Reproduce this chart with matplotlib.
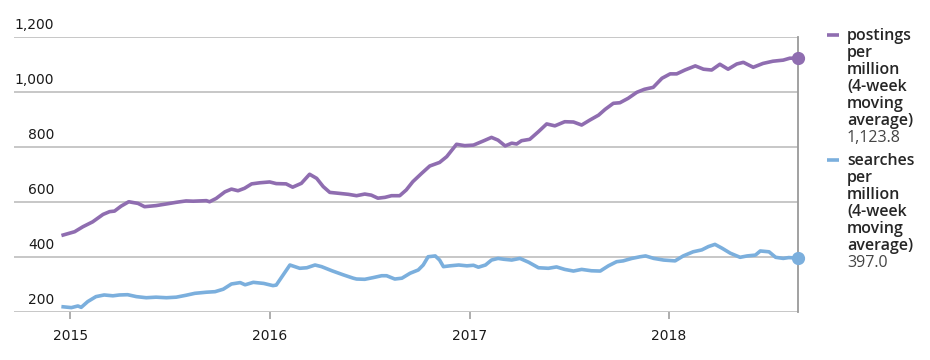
import numpy as np
import pandas as pd
import matplotlib
matplotlib.use("Agg")
import matplotlib.pyplot as plt
import matplotlib.transforms as mtransforms
from matplotlib.lines import Line2D

## DATA

post_dates = [
    "2014-12-19", "2015-01-09", "2015-01-24", "2015-02-11", "2015-03-02", "2015-03-14",
    "2015-03-23", "2015-04-04", "2015-04-18", "2015-05-05", "2015-05-17", "2015-06-07",
    "2015-06-26", "2015-07-14", "2015-08-01", "2015-08-14", "2015-09-07", "2015-09-13",
    "2015-09-25", "2015-10-11", "2015-10-23", "2015-11-04", "2015-11-16", "2015-11-29",
    "2015-12-14", "2016-01-01", "2016-01-13", "2016-01-31", "2016-02-12", "2016-02-28",
    "2016-03-14", "2016-03-27", "2016-04-08", "2016-04-20", "2016-05-05", "2016-05-24",
    "2016-06-08", "2016-06-23", "2016-07-05", "2016-07-17", "2016-07-30", "2016-08-11",
    "2016-08-26", "2016-09-07", "2016-09-19", "2016-10-05", "2016-10-20", "2016-11-07",
    "2016-11-20", "2016-12-08", "2016-12-23", "2017-01-08", "2017-01-26", "2017-02-10",
    "2017-02-22", "2017-03-07", "2017-03-19", "2017-03-28", "2017-04-06", "2017-04-21",
    "2017-05-07", "2017-05-22", "2017-06-06", "2017-06-24", "2017-07-10", "2017-07-25",
    "2017-08-09", "2017-08-25", "2017-09-06", "2017-09-21", "2017-10-03", "2017-10-18",
    "2017-11-03", "2017-11-17", "2017-12-03", "2017-12-19", "2018-01-03", "2018-01-15",
    "2018-01-30", "2018-02-18", "2018-03-05", "2018-03-20", "2018-04-04", "2018-04-19",
    "2018-05-05", "2018-05-17", "2018-06-04", "2018-06-22", "2018-07-10", "2018-07-29",
    "2018-08-10", "2018-08-25",
]
post_values = [
    481, 493, 511, 529, 556, 566,
    568, 586, 602, 596, 584, 588,
    594, 600, 605, 604, 606, 602,
    614, 638, 648, 642, 651, 667,
    671, 674, 668, 667, 655, 669,
    702, 687, 657, 636, 633, 629,
    624, 630, 626, 615, 618, 624,
    624, 645, 675, 705, 732, 745,
    766, 811, 806, 808, 823, 836,
    826, 805, 815, 812, 824, 829,
    857, 885, 878, 893, 892, 881,
    899, 917, 938, 960, 962, 978,
    1000, 1011, 1018, 1051, 1067, 1067,
    1081, 1096, 1084, 1081, 1102, 1084,
    1103, 1109, 1091, 1105, 1113, 1117,
    1124, 1123.8,
]

search_dates = [
    "2014-12-19", "2015-01-03", "2015-01-15", "2015-01-21", "2015-02-02", "2015-02-17",
    "2015-03-04", "2015-03-20", "2015-04-01", "2015-04-16", "2015-05-02", "2015-05-20",
    "2015-06-07", "2015-06-26", "2015-07-14", "2015-08-01", "2015-08-17", "2015-09-07",
    "2015-09-23", "2015-10-08", "2015-10-23", "2015-11-08", "2015-11-17", "2015-12-02",
    "2015-12-21", "2016-01-07", "2016-01-13", "2016-02-07", "2016-02-25", "2016-03-09",
    "2016-03-24", "2016-04-05", "2016-04-24", "2016-05-15", "2016-06-02", "2016-06-08",
    "2016-06-23", "2016-07-08", "2016-07-24", "2016-08-02", "2016-08-17", "2016-08-30",
    "2016-09-14", "2016-09-29", "2016-10-08", "2016-10-17", "2016-10-30", "2016-11-07",
    "2016-11-14", "2016-11-26", "2016-12-12", "2016-12-27", "2017-01-08", "2017-01-17",
    "2017-01-30", "2017-02-10", "2017-02-22", "2017-03-04", "2017-03-19", "2017-04-03",
    "2017-04-19", "2017-05-07", "2017-05-25", "2017-06-09", "2017-06-24", "2017-07-10",
    "2017-07-25", "2017-08-12", "2017-08-28", "2017-09-12", "2017-09-27", "2017-10-09",
    "2017-10-25", "2017-11-09", "2017-11-19", "2017-12-04", "2017-12-22", "2018-01-12",
    "2018-01-27", "2018-02-14", "2018-03-02", "2018-03-14", "2018-03-26", "2018-04-08",
    "2018-04-23", "2018-05-11", "2018-05-24", "2018-06-08", "2018-06-17", "2018-07-03",
    "2018-07-15", "2018-07-29", "2018-08-08", "2018-08-25",
]
search_values = [
    220, 217, 223, 218, 239, 257,
    263, 260, 263, 264, 257, 253,
    255, 253, 255, 262, 269, 273,
    275, 284, 303, 308, 300, 309,
    305, 297, 299, 372, 360, 362,
    372, 366, 351, 336, 324, 321,
    320, 326, 333, 333, 321, 324,
    342, 354, 372, 402, 405, 390,
    366, 369, 372, 369, 371, 364,
    372, 390, 396, 393, 390, 396,
    382, 362, 360, 365, 356, 350,
    356, 351, 350, 369, 384, 387,
    396, 402, 405, 396, 390, 387,
    405, 420, 427, 439, 447, 433,
    415, 400, 405, 408, 423, 420,
    400, 396, 399, 397.0,
]

series_labels = ["postings per million (4-week moving average)",
                 "searches per million (4-week moving average)"]
series_colors = ["#8f6db0", "#7bafdd"]

y_ticks = [200, 400, 600, 800, 1000, 1200]
x_tick_years = [2015, 2016, 2017, 2018]

## PLOT

W, H = 930, 360
fig = plt.figure(figsize=(W / 100, H / 100), dpi=100)
ax = fig.add_axes([14 / W, 1 - 312.3 / H, (798 - 14) / W, (312.3 - 37.3) / H])

dates = [pd.to_datetime(post_dates), pd.to_datetime(search_dates)]
values = [post_values, search_values]

for d, v, c in zip(dates, values, series_colors):
    ax.plot(d, v, color=c, lw=2.6, solid_joinstyle="round", clip_on=False, zorder=3)
    ax.plot(d[-1], v[-1], "o", color=c, ms=8.5, clip_on=False, zorder=4)

ax.set_ylim(200, 1200)
ax.set_xlim(pd.Timestamp("2014-09-20"), pd.Timestamp(post_dates[-1]))

ax.set_yticks(y_ticks)
ax.yaxis.grid(True, color="#bdbdbd", lw=1.2)
ax.set_axisbelow(True)
ax.tick_params(axis="y", length=0, labelleft=False)

# y labels sit above their gridline, right-aligned
trans = mtransforms.blended_transform_factory(ax.transAxes, ax.transData)
for t in y_ticks:
    ax.annotate(f"{t:,}", xy=(0, t), xycoords=trans, xytext=(29, 4),
                textcoords="offset points", ha="right", va="bottom",
                fontsize=10, color="#1a1a1a", family="DejaVu Sans")

ax.set_xticks([pd.Timestamp(f"{y}-01-01") for y in x_tick_years])
ax.set_xticklabels([str(y) for y in x_tick_years])
ax.tick_params(axis="x", length=5, width=1.2, color="#a0a0a0", pad=7,
               labelsize=10, labelcolor="#1a1a1a")

for s in ["top", "left", "bottom"]:
    ax.spines[s].set_visible(False)
ax.spines["right"].set_color("#9a9a9a")
ax.spines["right"].set_linewidth(1.3)

# legend on the right, one word per line
base = 40
for lab, v, c in zip(series_labels, values, series_colors):
    fig.add_artist(Line2D([827 / W, 839 / W], [1 - (base - 5) / H] * 2,
                          transform=fig.transFigure, color=c, lw=2.6,
                          solid_capstyle="butt"))
    for word in lab.split(" "):
        fig.text(847 / W, 1 - base / H, word, va="baseline", ha="left",
                 fontsize=11.5, family="Open Sans", weight="semibold", color="#262626")
        base += 17
    fig.text(847 / W, 1 - base / H, f"{v[-1]:,.1f}", va="baseline", ha="left",
             fontsize=11.5, family="Open Sans", color="#444444")
    base += 23

fig.savefig("out.png", dpi=100)
